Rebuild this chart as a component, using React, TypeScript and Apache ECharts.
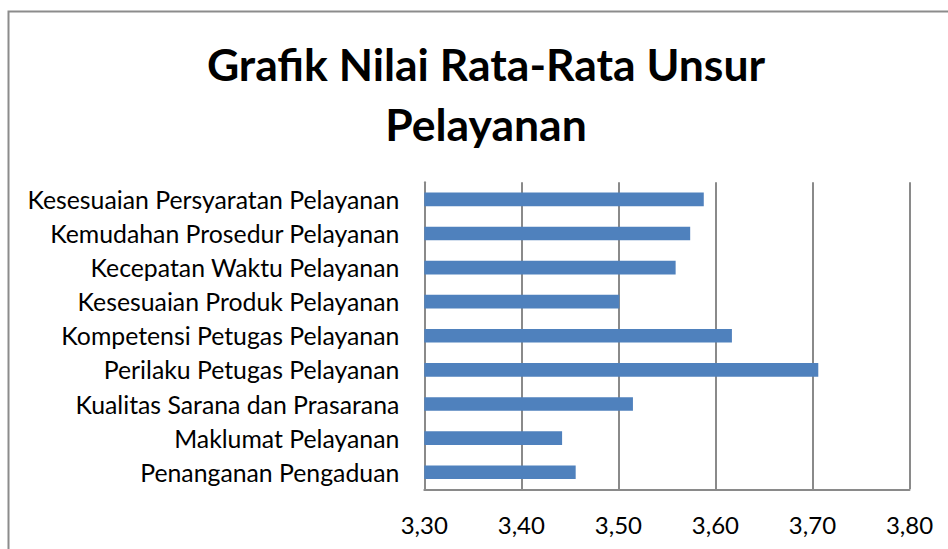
import React, { useEffect, useRef } from "react";
import * as echarts from "echarts";

const titleText = "Grafik Nilai Rata-Rata Unsur\nPelayanan";
const categories = [
  "Kesesuaian Persyaratan Pelayanan",
  "Kemudahan Prosedur Pelayanan",
  "Kecepatan Waktu Pelayanan",
  "Kesesuaian Produk Pelayanan",
  "Kompetensi Petugas Pelayanan",
  "Perilaku Petugas Pelayanan",
  "Kualitas Sarana dan Prasarana",
  "Maklumat Pelayanan",
  "Penanganan Pengaduan",
];
const values = [3.588, 3.574, 3.559, 3.501, 3.617, 3.706, 3.515, 3.442, 3.456];
const axisMin = 3.3;
const axisMax = 3.8;
const axisStep = 0.1;

export default function App() {
  const ref = useRef<HTMLDivElement>(null);
  useEffect(() => {
    if (!ref.current) return;
    const chart = echarts.init(ref.current, null, { renderer: "svg" });
    const font = "Lato, 'Open Sans', sans-serif";
    chart.setOption({
      animation: false,
      backgroundColor: "#ffffff",
      title: {
        text: titleText,
        left: 481,
        top: 28,
        textAlign: "center",
        textStyle: {
          fontFamily: font,
          fontWeight: "bold",
          fontSize: 44.5,
          lineHeight: 60,
          color: "#000000",
        },
      },
      graphic: [
        {
          type: "rect",
          shape: { x: 8.5, y: 11.5, width: 1000, height: 1000 },
          style: { fill: "none", stroke: "#8c8c8c", lineWidth: 2 },
          silent: true,
        },
      ],
      grid: { left: 424.3, right: 38.5, top: 182.3, bottom: 59.7, containLabel: false },
      xAxis: {
        type: "value",
        min: axisMin,
        max: axisMax,
        interval: axisStep,
        axisLine: { show: true, lineStyle: { color: "#8a8a8a", width: 2 } },
        axisTick: { show: false },
        splitLine: { show: true, lineStyle: { color: "#8a8a8a", width: 2 } },
        axisLabel: {
          margin: 23,
          fontFamily: font,
          fontSize: 24,
          color: "#000000",
          formatter: (v: number) => v.toFixed(2).replace(".", ","),
        },
      },
      yAxis: {
        type: "category",
        data: categories,
        inverse: true,
        axisLine: { show: true, lineStyle: { color: "#8a8a8a", width: 2 } },
        axisTick: { show: false },
        splitLine: { show: false },
        axisLabel: {
          margin: 25,
          fontFamily: font,
          fontSize: 24.8,
          color: "#000000",
        },
      },
      series: [
        {
          type: "bar",
          data: values,
          barCategoryGap: "60%",
          itemStyle: { color: "#4f81bd" },
        },
      ],
    });
    return () => chart.dispose();
  }, []);
  return (
    <div
      ref={ref}
      style={{ position: "fixed", left: 0, top: 0, width: 948, height: 549 }}
    />
  );
}
